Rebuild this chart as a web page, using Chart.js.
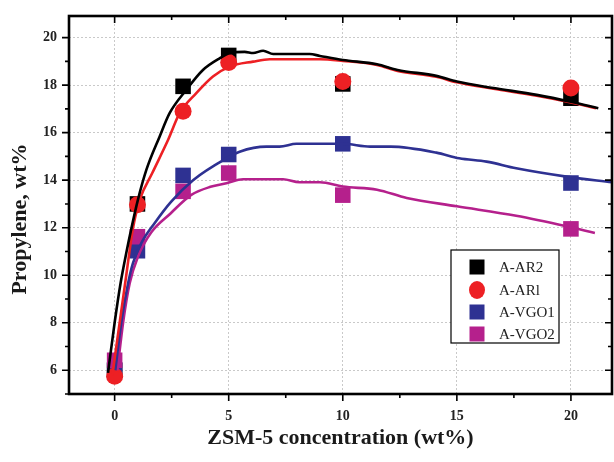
<!DOCTYPE html>
<html>
<head>
<meta charset="utf-8">
<script src="https://cdn.jsdelivr.net/npm/chart.js@4"></script>
<style>
  html, body { margin: 0; padding: 0; background: #ffffff; }
  #wrap { width: 614px; height: 462px; position: relative; }
</style>
</head>
<body>
<div id="wrap"><canvas id="c" width="614" height="462"></canvas></div>
<script>
// ---------- data ----------
const seriesNames = ['A-AR2', 'A-ARl', 'A-VGO1', 'A-VGO2'];
const concentrations = [0, 1, 3, 5, 10, 20];
const ar2Values  = [6.0, 13.0, 17.95, 19.25, 18.05, 17.45];
const ar1Values  = [5.75, 12.97, 16.9, 18.95, 18.15, 17.88];
const vgo1Values = [6.0, 11.03, 14.2, 15.08, 15.53, 13.88];
const vgo2Values = [6.42, 11.62, 13.53, 14.3, 13.37, 11.95];

// fitted trend curves
const ar2FitX = [-0.29, 0, 0.26, 0.51, 0.73, 1.02, 1.39, 1.97, 2.41, 3.14, 3.87, 4.6, 5.04, 5.7, 6.07, 6.51, 6.95, 8.55, 9.0, 10, 11.5, 12.4, 14.1, 15, 16.6, 18.5, 20, 21.2];
const ar2FitY = [5.89, 8.0, 9.66, 10.93, 11.95, 13.17, 14.43, 15.83, 16.82, 17.8, 18.64, 19.13, 19.34, 19.4, 19.35, 19.45, 19.31, 19.31, 19.23, 19.06, 18.88, 18.64, 18.39, 18.15, 17.88, 17.59, 17.3, 17.03];
const ar1FitX = [-0.1, 0.22, 0.51, 0.8, 1.1, 1.65, 2.34, 2.85, 3.58, 4.31, 5.04, 6.07, 6.8, 9.0, 10, 11.5, 12.4, 14.1, 15, 16.6, 18.5, 20, 21.1];
const ar1FitY = [5.8, 8.0, 10.0, 11.95, 13.17, 14.3, 15.69, 16.82, 17.66, 18.36, 18.78, 18.99, 19.09, 19.09, 19.02, 18.85, 18.6, 18.35, 18.12, 17.85, 17.55, 17.27, 17.03];
const vgo1FitX = [0.03, 0.29, 0.59, 0.8, 1.17, 1.75, 2.48, 3.45, 4.9, 5.48, 6.65, 7.23, 7.97, 10, 11.2, 12.1, 14.1, 15.1, 16.3, 17.6, 19.8, 21.8];
const vgo1FitY = [6.0, 8.0, 9.66, 10.5, 11.35, 12.19, 13.1, 14.01, 14.92, 15.2, 15.41, 15.41, 15.53, 15.53, 15.41, 15.41, 15.16, 14.92, 14.78, 14.5, 14.15, 13.91];
const vgo2FitX = [0.12, 0.37, 0.66, 1.02, 1.6, 2.45, 3.36, 4.2, 4.9, 5.63, 7.38, 8.1, 9.0, 10, 11.5, 12.8, 15, 17.6, 19.8, 21.05];
const vgo2FitY = [6.0, 8.0, 9.66, 10.78, 11.8, 12.6, 13.38, 13.72, 13.87, 14.04, 14.04, 13.91, 13.91, 13.73, 13.6, 13.25, 12.9, 12.5, 12.06, 11.78];

const xTickValues = [0, 5, 10, 15, 20];
const yTickValues = [6, 8, 10, 12, 14, 16, 18, 20];
const xTitle = 'ZSM-5 concentration (wt%)';
const yTitle = 'Propylene, wt%';

// ---------- styles ----------
const colors = ['#000000', '#ED2024', '#2E3192', '#B5208C'];
const markerStyles = ['rect', 'circle', 'rect', 'rect'];
const markerRadius = [11, 8.5, 11, 11];
const markerOrder = [7, 4, 6, 5];
const lineOrder = [0, 1, 2, 3];

const pointsOf = (xs, ys) => xs.map((x, i) => ({ x: x, y: ys[i] }));
const markerValues = [ar2Values, ar1Values, vgo1Values, vgo2Values];
const fits = [[ar2FitX, ar2FitY], [ar1FitX, ar1FitY], [vgo1FitX, vgo1FitY], [vgo2FitX, vgo2FitY]];

const datasets = [];
seriesNames.forEach((name, i) => {
  datasets.push({
    label: name,
    data: pointsOf(concentrations, markerValues[i]),
    pointStyle: markerStyles[i],
    pointRadius: markerRadius[i],
    pointHoverRadius: markerRadius[i],
    backgroundColor: colors[i],
    borderColor: colors[i],
    borderWidth: 0,
    showLine: false,
    order: markerOrder[i]
  });
});
seriesNames.forEach((name, i) => {
  datasets.push({
    label: name + ' fit',
    data: pointsOf(fits[i][0], fits[i][1]),
    showLine: true,
    pointRadius: 0,
    pointHoverRadius: 0,
    borderColor: colors[i],
    backgroundColor: colors[i],
    borderWidth: 2.6,
    cubicInterpolationMode: 'monotone',
    order: lineOrder[i]
  });
});

const SERIF = "'Liberation Serif', 'Times New Roman', serif";

const framePlugin = {
  id: 'frame',
  afterDraw(chart) {
    const ctx = chart.ctx;
    const a = chart.chartArea;
    const xs = chart.scales.x, ys = chart.scales.y;
    ctx.save();
    ctx.strokeStyle = '#000';
    ctx.lineWidth = 1.6;
    ctx.beginPath();
    for (let v = 5; v <= 20; v++) {
      const y = ys.getPixelForValue(v);
      const len = (v % 2 === 0) ? 7 : 4;
      ctx.moveTo(a.left, y); ctx.lineTo(a.left - len, y);
      ctx.moveTo(a.right, y); ctx.lineTo(a.right - len, y);
    }
    for (let v = 0; v <= 20; v += 2.5) {
      const x = xs.getPixelForValue(v);
      const len = (v % 5 === 0) ? 7 : 4;
      ctx.moveTo(x, a.bottom); ctx.lineTo(x, a.bottom + len);
      ctx.moveTo(x, a.top); ctx.lineTo(x, a.top + len);
    }
    ctx.stroke();
    ctx.lineWidth = 2.6;
    ctx.strokeRect(a.left, a.top, a.right - a.left, a.bottom - a.top);

    // y axis title
    ctx.fillStyle = '#1a1a1a';
    ctx.font = 'bold 22px ' + SERIF;
    ctx.textAlign = 'center';
    ctx.textBaseline = 'middle';
    ctx.translate(20, 219);
    ctx.rotate(-Math.PI / 2);
    ctx.fillText(yTitle, 0, 0);
    ctx.restore();

    // legend
    ctx.save();
    const bx = 451, by = 250, bw = 108, bh = 93;
    ctx.fillStyle = '#fff';
    ctx.fillRect(bx, by, bw, bh);
    ctx.strokeStyle = '#000';
    ctx.lineWidth = 1.2;
    ctx.strokeRect(bx, by, bw, bh);
    const rows = [267, 290, 312, 334];
    ctx.font = '15px ' + SERIF;
    ctx.textAlign = 'left';
    ctx.textBaseline = 'middle';
    seriesNames.forEach((name, i) => {
      const cy = rows[i];
      ctx.fillStyle = colors[i];
      if (markerStyles[i] === 'circle') {
        ctx.beginPath();
        ctx.ellipse(477, cy, 8, 9, 0, 0, Math.PI * 2);
        ctx.fill();
      } else {
        ctx.fillRect(477 - 7.5, cy - 7.5, 15, 15);
      }
      ctx.fillStyle = '#222';
      ctx.fillText(name, 499, cy + 1);
    });
    ctx.restore();
  }
};

new Chart(document.getElementById('c'), {
  type: 'scatter',
  data: { datasets: datasets },
  options: {
    responsive: false,
    animation: false,
    events: [],
    layout: { autoPadding: false, padding: { top: 16, right: 2, left: 0, bottom: 0 } },
    plugins: {
      legend: { display: false },
      tooltip: { enabled: false }
    },
    scales: {
      x: {
        type: 'linear',
        min: -2,
        max: 21.8,
        afterFit(s) { s.height = 68; s.paddingLeft = 0; s.paddingRight = 0; },
        afterBuildTicks(s) { s.ticks = xTickValues.map(v => ({ value: v })); },
        grid: { color: '#c9c9c9', lineWidth: 1, drawTicks: false },
        border: { display: false, dash: [2, 2] },
        ticks: {
          padding: 14,
          color: '#222',
          font: { family: SERIF, weight: 'bold', size: 14 },
          callback: v => String(v)
        },
        title: {
          display: true,
          text: xTitle,
          color: '#1a1a1a',
          font: { family: SERIF, weight: 'bold', size: 22 },
          padding: { top: 0, bottom: 10 }
        }
      },
      y: {
        type: 'linear',
        min: 5,
        max: 20.91,
        afterFit(s) { s.width = 69; s.paddingTop = 0; s.paddingBottom = 0; },
        afterBuildTicks(s) { s.ticks = yTickValues.map(v => ({ value: v })); },
        grid: { color: '#c9c9c9', lineWidth: 1, drawTicks: false },
        border: { display: false, dash: [2, 2] },
        ticks: {
          padding: 12,
          color: '#222',
          font: { family: SERIF, weight: 'bold', size: 14 },
          callback: v => String(v)
        }
      }
    }
  },
  plugins: [framePlugin]
});
</script>
</body>
</html>
